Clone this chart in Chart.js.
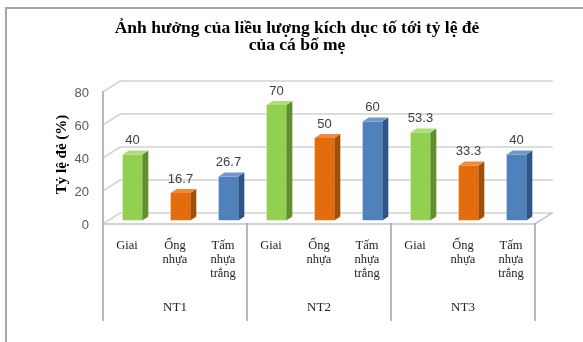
<!DOCTYPE html>
<html>
<head>
<meta charset="utf-8">
<script src="https://cdn.jsdelivr.net/npm/chart.js@4.4.1/dist/chart.umd.min.js"></script>
<style>
  html, body { margin: 0; padding: 0; background: #ffffff; }
  #wrap { position: relative; width: 583px; height: 342px; }
</style>
</head>
<body>
<div id="wrap"><canvas id="c" width="583" height="342"></canvas></div>
<script>
// ---- data ----
const chartTitle = ['Ảnh hưởng của liều lượng kích dục tố tới tỷ lệ đẻ', 'của cá bố mẹ'];
const yAxisTitle = 'Tỷ lệ đẻ (%)';
const groups = ['NT1', 'NT2', 'NT3'];
const types = [['Giai'], ['Ống', 'nhựa'], ['Tấm', 'nhựa', 'trắng']];
const valuesNT1 = [40, 16.7, 26.7];
const valuesNT2 = [70, 50, 60];
const valuesNT3 = [53.3, 33.3, 40];
const yTicks = [0, 20, 40, 60, 80];

// ---- styling ----
const faceFront = ['#92d050', '#e46c0a', '#4f81bd'];
const faceTop   = ['#addd79', '#f0893a', '#6e98cc'];
const faceSide  = ['#5f8f2f', '#a44d07', '#2e5585'];
const SERIF = '"Liberation Serif", "Times New Roman", serif';
const SANS = '"Liberation Sans", Arial, sans-serif';

// 3D planes relative to the bar plane (the plane the scales describe)
const FRONT = { dx: -5.5, dy: 3.5 };
const BACK  = { dx: 11.5, dy: -7.5 };
const BAR_DEPTH = { dx: 6, dy: -4 };

const allValues = [valuesNT1, valuesNT2, valuesNT3].flat();
const labels = groups.flatMap(() => types);
const colorsFront = groups.flatMap(() => faceFront);

const box3d = {
  id: 'box3d',
  beforeDraw(chart) {
    const ctx = chart.ctx;
    ctx.save();
    ctx.fillStyle = '#ffffff';
    ctx.fillRect(0, 0, chart.width, chart.height);
    // outer frame
    ctx.strokeStyle = '#a6a6a6';
    ctx.lineWidth = 2;
    ctx.beginPath();
    ctx.moveTo(6, chart.height);
    ctx.lineTo(6, 8);
    ctx.lineTo(chart.width, 8);
    ctx.stroke();
    // chart title, centred over the frame
    ctx.fillStyle = '#000000';
    ctx.font = 'bold 17.5px ' + SERIF;
    ctx.textAlign = 'center';
    ctx.textBaseline = 'middle';
    chartTitle.forEach((line, i) => ctx.fillText(line, 297, 28 + i * 17));
    ctx.restore();
  },
  beforeDatasetsDraw(chart) {
    const ctx = chart.ctx;
    const x = chart.scales.x, y = chart.scales.y;
    const left = x.left, right = x.right;
    const y0 = y.getPixelForValue(0);
    const axisBottom = x.bottom - 22;
    ctx.save();
    ctx.lineCap = 'square';
    // back wall gridlines with left-wall diagonals
    ctx.strokeStyle = '#d2d2d2';
    ctx.lineWidth = 1.5;
    yTicks.forEach(v => {
      const yp = y.getPixelForValue(v);
      ctx.beginPath();
      ctx.moveTo(left + FRONT.dx, yp + FRONT.dy);
      ctx.lineTo(left + BACK.dx, yp + BACK.dy);
      ctx.lineTo(right + BACK.dx, yp + BACK.dy);
      ctx.stroke();
    });
    // floor front edge and right edge
    ctx.strokeStyle = '#c4c4c4';
    ctx.beginPath();
    ctx.moveTo(left + FRONT.dx, y0 + FRONT.dy);
    ctx.lineTo(right + FRONT.dx, y0 + FRONT.dy);
    ctx.lineTo(right + BACK.dx, y0 + BACK.dy);
    ctx.stroke();
    // value axis line, running down through the category area
    ctx.strokeStyle = '#b8b8b8';
    ctx.lineWidth = 2;
    ctx.beginPath();
    ctx.moveTo(left + FRONT.dx, y.getPixelForValue(80) + FRONT.dy);
    ctx.lineTo(left + FRONT.dx, axisBottom);
    ctx.stroke();
    // group dividers
    const gw = (right - left) / groups.length;
    for (let k = 1; k <= groups.length; k++) {
      const gx = left + FRONT.dx + k * gw;
      ctx.beginPath();
      ctx.moveTo(gx, y0 + FRONT.dy);
      ctx.lineTo(gx, axisBottom);
      ctx.stroke();
    }
    // group labels
    ctx.fillStyle = '#222222';
    ctx.font = '13px ' + SERIF;
    ctx.textAlign = 'center';
    ctx.textBaseline = 'middle';
    groups.forEach((g, k) => {
      ctx.fillText(g, left + FRONT.dx + (k + 0.5) * gw, x.bottom - 34);
    });
    ctx.restore();
  },
  afterDatasetsDraw(chart) {
    const ctx = chart.ctx;
    const meta = chart.getDatasetMeta(0);
    ctx.save();
    meta.data.forEach((bar, i) => {
      const { x, y, base, width } = bar.getProps(['x', 'y', 'base', 'width'], true);
      const l = x - width / 2, r = x + width / 2;
      const t = i % types.length;
      // side face
      ctx.fillStyle = faceSide[t];
      ctx.beginPath();
      ctx.moveTo(r, y);
      ctx.lineTo(r + BAR_DEPTH.dx, y + BAR_DEPTH.dy);
      ctx.lineTo(r + BAR_DEPTH.dx, base + BAR_DEPTH.dy);
      ctx.lineTo(r, base);
      ctx.closePath();
      ctx.fill();
      // top face
      ctx.fillStyle = faceTop[t];
      ctx.beginPath();
      ctx.moveTo(l, y);
      ctx.lineTo(r, y);
      ctx.lineTo(r + BAR_DEPTH.dx, y + BAR_DEPTH.dy);
      ctx.lineTo(l + BAR_DEPTH.dx, y + BAR_DEPTH.dy);
      ctx.closePath();
      ctx.fill();
      // value label
      ctx.fillStyle = '#404040';
      ctx.font = '13px ' + SANS;
      ctx.textAlign = 'center';
      ctx.textBaseline = 'middle';
      ctx.fillText(String(allValues[i]), x, y - 14);
    });
    ctx.restore();
  }
};

new Chart(document.getElementById('c'), {
  type: 'bar',
  data: {
    labels: labels,
    datasets: [{
      data: allValues,
      backgroundColor: colorsFront,
      borderWidth: 0,
      barPercentage: 0.41,
      categoryPercentage: 1
    }]
  },
  options: {
    responsive: false,
    animation: false,
    devicePixelRatio: 1,
    layout: { padding: { left: 0, right: 42.5, top: 88.5, bottom: 0 } },
    plugins: {
      legend: { display: false },
      tooltip: { enabled: false },
      title: { display: false }
    },
    scales: {
      x: {
        type: 'category',
        offset: true,
        grid: { display: false, drawTicks: false },
        border: { display: false },
        ticks: {
          color: '#222222',
          font: { family: SERIF, size: 12.5, lineHeight: 1.12 },
          padding: 18,
          labelOffset: FRONT.dx,
          maxRotation: 0,
          autoSkip: false
        },
        afterFit(s) { s.height = 121.5; }
      },
      y: {
        min: 0,
        max: 80,
        grid: { display: false, drawTicks: false },
        border: { display: false },
        ticks: {
          stepSize: 20,
          color: '#595959',
          font: { family: SANS, size: 13 },
          padding: 19.5,
          labelOffset: 4.5
        },
        title: {
          display: true,
          text: yAxisTitle,
          color: '#000000',
          font: { family: SERIF, size: 15, weight: 'bold', lineHeight: 1.2 },
          padding: { top: 53, bottom: 0 }
        },
        afterFit(s) { s.width = 108.5; }
      }
    }
  },
  plugins: [box3d]
});
</script>
</body>
</html>
